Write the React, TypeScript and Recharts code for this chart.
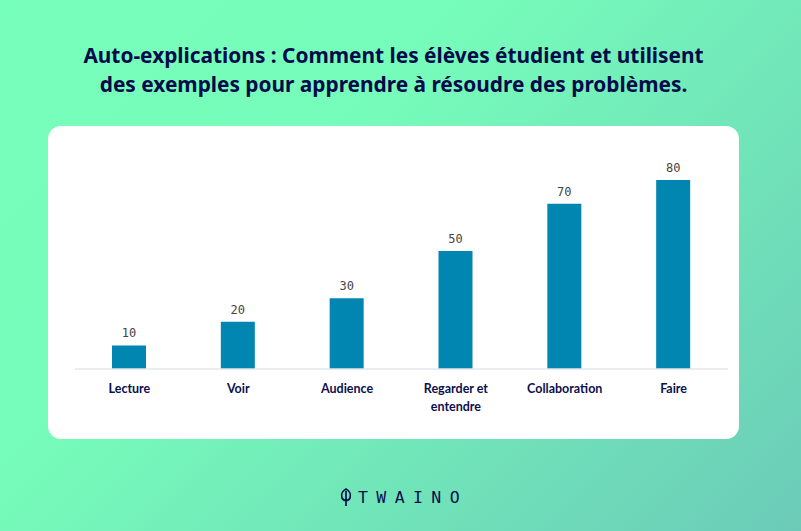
import React from "react";
import { BarChart, Bar, XAxis, YAxis, LabelList, ReferenceLine } from "recharts";

const categories = ["Lecture", "Voir", "Audience", "Regarder et entendre", "Collaboration", "Faire"];
const tickLines: Record<string, string[]> = { "Regarder et entendre": ["Regarder et", "entendre"] };
const values = [10, 20, 30, 50, 70, 80];
const titleLines = [
  "Auto-explications : Comment les élèves étudient et utilisent",
  "des exemples pour apprendre à résoudre des problèmes.",
];
const logoText = "TWAINO";
const rows = categories.map((name, i) => ({ name, value: values[i] }));

const NAVY = "#0b0f4e";
const sans = "'Noto Sans', sans-serif";

function Tick(props: any) {
  const { x, y, payload } = props;
  const lines = tickLines[payload.value] ?? [payload.value];
  return (
    <text x={x} y={y} textAnchor="middle" fill={NAVY} fontFamily="Lato, sans-serif" fontSize={12.5} fontWeight={700}>
      {lines.map((l, i) => (
        <tspan key={l} x={x} dy={i === 0 ? 0 : 18}>{l}</tspan>
      ))}
    </text>
  );
}

export default function App() {
  return (
    <div style={{ position: "absolute", left: 0, top: 0, width: 801, height: 531, overflow: "hidden",
      background: "linear-gradient(135deg, #76ffba 0%, #76fcba 36%, #6bcbb8 100%)" }}>
      <div style={{ position: "absolute", left: -7, top: 41, width: 801, textAlign: "center", color: "#050a4a",
        fontFamily: sans, fontWeight: 700, fontSize: 20.85, lineHeight: "28.5px" }}>
        {titleLines.map((l) => <div key={l}>{l}</div>)}
      </div>
      <div style={{ position: "absolute", left: 48, top: 126, width: 691, height: 313, background: "#fff", borderRadius: 13 }} />
      <div style={{ position: "absolute", left: 0, top: 0 }}>
        <BarChart width={801} height={531} data={rows} margin={{ top: 180, right: 73, bottom: 0, left: 75 }} barCategoryGap={0}>
          <YAxis hide domain={[0, 80]} />
          <XAxis dataKey="name" interval={0} axisLine={{ stroke: "#e4e6ea", strokeWidth: 1 }} tickLine={false} tick={<Tick />} tickMargin={18} height={162} />
          <ReferenceLine y={0} stroke="#e4e6ea" />
          <Bar dataKey="value" fill="#0086b0" barSize={34} isAnimationActive={false}>
            <LabelList dataKey="value" position="top" offset={8} fill="#444444" fontFamily="'DejaVu Sans Mono', monospace" fontSize={12} />
          </Bar>
        </BarChart>
      </div>
      <svg style={{ position: "absolute", left: 340, top: 488 }} width={12} height={20} viewBox="0 0 12 20">
        <path d="M6 1 C2 3 1 7 2 10 C3 12 5 12.5 6 12.5 C7 12.5 9 12 10 10 C11 7 10 3 6 1 Z M6 3 V18" fill="none" stroke={NAVY} strokeWidth={1.7} />
      </svg>
      <div style={{ position: "absolute", left: 358, top: 486, color: NAVY, fontFamily: "'DejaVu Sans Mono', monospace",
        fontSize: 16.5, lineHeight: "24px", letterSpacing: 8.4, whiteSpace: "nowrap" }}>{logoText}</div>
    </div>
  );
}
